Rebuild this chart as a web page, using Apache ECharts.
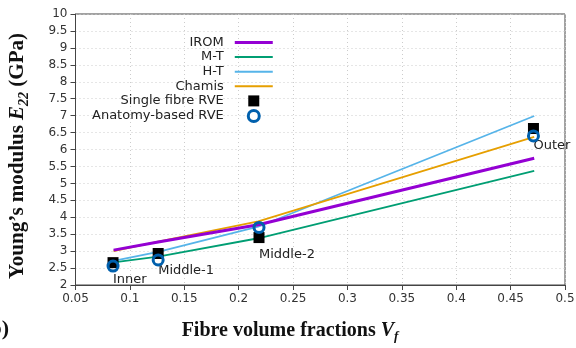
<!DOCTYPE html>
<html><head><meta charset="utf-8">
<script src="https://cdn.jsdelivr.net/npm/echarts@6/dist/echarts.min.js"></script>
<style>html,body{margin:0;padding:0;background:#fff}#c{width:576px;height:348px}</style>
</head><body><div id="c"></div>
<script>
// Model curves (fibre volume fraction -> E22 GPa)
const modelVf = [0.085, 0.126, 0.218, 0.4717];
const irom   = [3.03, 3.27, 3.78, 5.74];
const mt     = [2.67, 2.84, 3.38, 5.37];
const ht     = [2.71, 2.98, 3.72, 6.99];
const chamis = [3.00, 3.28, 3.88, 6.37];
// RVE results
const rveVf = [0.0845, 0.126, 0.2187, 0.471];
const singleFibre = [2.66, 2.93, 3.40, 6.62];
const anatomy     = [2.56, 2.74, 3.70, 6.40];
const regionNames = ['Inner', 'Middle-1', 'Middle-2', 'Outer'];
const xTicks = [0.05,0.1,0.15,0.2,0.25,0.3,0.35,0.4,0.45,0.5];

const pair = (xs, ys) => xs.map((x, i) => [x, ys[i]]);
const sans = 'DejaVu Sans';
const serif = 'Liberation Serif';
const lineIcon = 'path://M0,0H38V3H0Z';
const lineIconThin = 'path://M0,0H38V2H0Z';
const ringBlue = '#0060ad';
const makeRich = (fs) => ({
  a: {fontFamily: serif, fontWeight: 'bold', fontSize: fs, fill: '#111'},
  i: {fontFamily: serif, fontWeight: 'bold', fontStyle: 'italic', fontSize: fs, fill: '#111'},
  s: {fontFamily: serif, fontWeight: 'bold', fontStyle: 'italic', fontSize: Math.round(fs * 0.65), fill: '#111', padding: [Math.round(fs * 0.55), 0, 0, 0]}
});

const chart = echarts.init(document.getElementById('c'));
chart.setOption({
  animation: false,
  grid: {left: 75.5, right: 11, top: 14, bottom: 63, containLabel: false, outerBoundsMode: 'none',
    show: true, borderColor: '#444', borderWidth: 1},
  legend: {
    orient: 'vertical', align: 'right', left: 92, top: 36, padding: 0,
    itemWidth: 38, itemHeight: 11, itemGap: 1.6,
    textStyle: {fontFamily: sans, fontSize: 13, color: '#222', lineHeight: 11, padding: [0, 6, 0, 0]},
    data: [
      {name: 'IROM', icon: lineIcon},
      {name: 'M-T', icon: lineIconThin},
      {name: 'H-T', icon: lineIconThin},
      {name: 'Chamis', icon: lineIconThin},
      {name: 'Single fibre RVE', icon: 'path://M0,0H10V10H0Z', itemStyle: {color: '#000', opacity: 1}},
      {name: 'Anatomy-based RVE', icon: 'circle', itemStyle: {color: '#fff', borderColor: ringBlue, borderWidth: 3, opacity: 1}}
    ]
  },
  xAxis: {
    type: 'value', min: 0.05, max: 0.5, interval: 0.05,
    axisLine: {lineStyle: {color: '#444'}},
    axisTick: {length: 5, lineStyle: {color: '#444'}},
    axisLabel: {fontFamily: sans, fontSize: 12, color: '#333', margin: 8,
      formatter: v => { const t = xTicks.find(x => Math.abs(x - v) < 1e-6); return t === undefined ? '' : String(t); }},
    splitLine: {show: true, lineStyle: {color: '#ccc', type: [1, 3]}}
  },
  yAxis: {
    type: 'value', min: 2, max: 10, interval: 0.5,
    axisLine: {show: true, lineStyle: {color: '#444'}},
    axisTick: {show: true, length: 5, lineStyle: {color: '#444'}},
    axisLabel: {fontFamily: sans, fontSize: 12, color: '#333', margin: 8},
    splitLine: {show: true, lineStyle: {color: '#ccc', type: [1, 3]}}
  },
  graphic: [
    {type: 'text', x: 9, y: 329, style: {text: '(b)', font: 'bold 22px "Liberation Serif"', fill: '#111', align: 'right', verticalAlign: 'middle'}},
    {type: 'text', x: 290, y: 331, style: {text: '{a|Fibre volume fractions }{i|V}{s|f}', rich: makeRich(20), align: 'center', verticalAlign: 'middle'}},
    {type: 'text', x: 18, y: 156, rotation: Math.PI / 2, style: {text: '{a|Young\u2019s modulus }{i|E}{s|22}{a| (GPa)}', rich: makeRich(21), align: 'center', verticalAlign: 'middle'}}
  ],
  series: [
    {name: 'IROM', type: 'line', data: pair(modelVf, irom), showSymbol: false, color: '#9400d3', lineStyle: {width: 3}, z: 3},
    {name: 'M-T', type: 'line', data: pair(modelVf, mt), showSymbol: false, color: '#009e73', lineStyle: {width: 1.8}, z: 2},
    {name: 'H-T', type: 'line', data: pair(modelVf, ht), showSymbol: false, color: '#56b4e9', lineStyle: {width: 1.8}, z: 2},
    {name: 'Chamis', type: 'line', data: pair(modelVf, chamis), showSymbol: false, color: '#e69f00', lineStyle: {width: 1.8}, z: 2},
    {name: 'Single fibre RVE', type: 'scatter', symbol: 'rect', symbolSize: 11, color: '#000', z: 4,
      itemStyle: {color: '#000', opacity: 1},
      data: rveVf.map((x, i) => ({value: [x, singleFibre[i]], name: regionNames[i]})),
      label: {show: true, position: 'inside', align: 'left', verticalAlign: 'middle', offset: [0, 17],
        formatter: p => p.name, fontFamily: sans, fontSize: 13, color: '#222'}},
    {name: 'Anatomy-based RVE', type: 'scatter', symbol: 'circle', symbolSize: 10, z: 5,
      itemStyle: {color: 'rgba(255,255,255,0)', borderColor: ringBlue, borderWidth: 3, opacity: 1}, color: ringBlue,
      data: pair(rveVf, anatomy)}
  ]
});
</script></body></html>
